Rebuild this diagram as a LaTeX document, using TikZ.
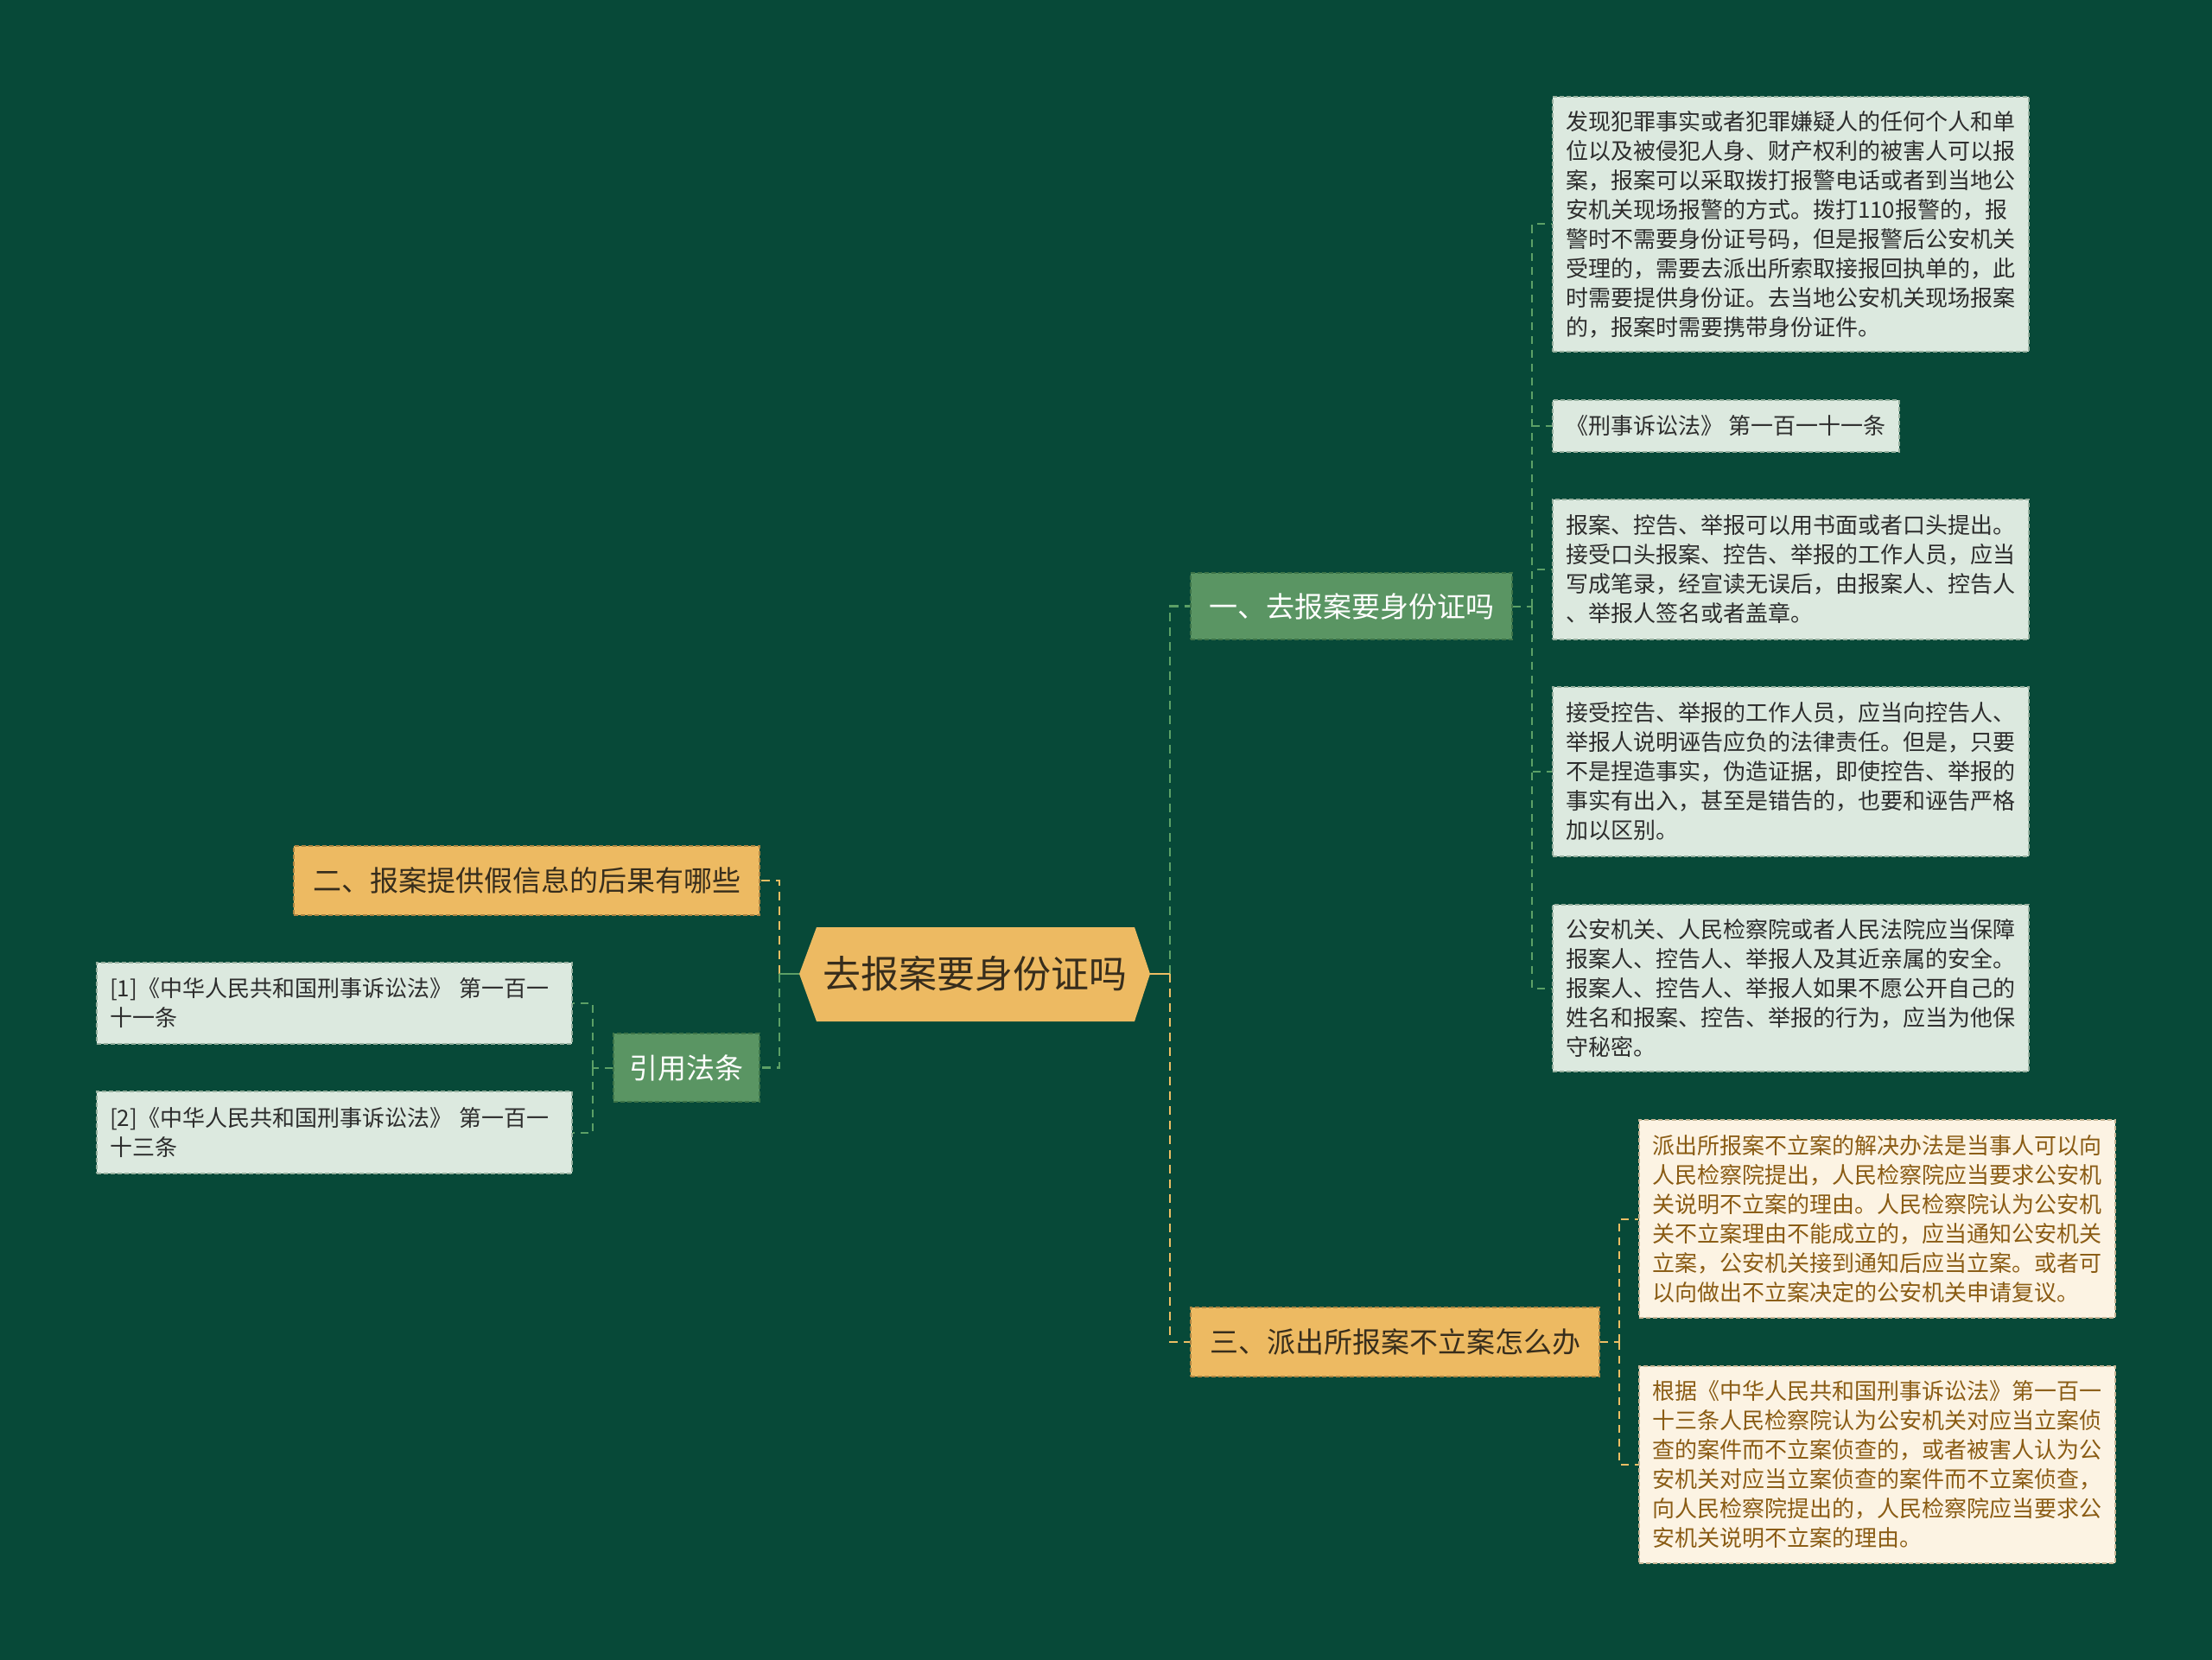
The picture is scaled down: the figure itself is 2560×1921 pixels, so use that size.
\documentclass[tikz,border=0pt]{standalone}
\usepackage{fontspec}
\newfontfamily\cjk{Noto Sans CJK SC}
\definecolor{bgc}{RGB}{7,73,56}
\definecolor{lightfill}{RGB}{220,233,223}
\definecolor{lightdraw}{RGB}{150,175,158}
\definecolor{creamfill}{RGB}{252,243,227}
\definecolor{creamdraw}{RGB}{200,182,150}
\definecolor{creamtext}{RGB}{138,92,20}
\definecolor{orangefill}{RGB}{237,186,98}
\definecolor{orangedraw}{RGB}{170,132,66}
\definecolor{greenfill}{RGB}{90,149,99}
\definecolor{greendraw}{RGB}{60,115,72}
\definecolor{darktext}{RGB}{55,45,28}
\definecolor{graytext}{RGB}{45,45,45}
\definecolor{conngreen}{RGB}{92,160,102}
\definecolor{connorange}{RGB}{237,190,100}
\tikzset{
  boxbase/.style={rectangle, inner ysep=0pt, dash pattern=on 5pt off 3pt, line width=1.5pt},
  leafbox/.style={boxbase, fill=lightfill, draw=lightdraw, text=graytext, align=left,
    inner xsep=15pt, font=\cjk\fontsize{26}{34}\selectfont},
  creambox/.style={boxbase, fill=creamfill, draw=creamdraw, text=creamtext, align=left,
    inner xsep=15pt, font=\cjk\fontsize{26}{34}\selectfont},
  orangebranch/.style={boxbase, fill=orangefill, draw=orangedraw, text=darktext,
    inner xsep=0pt, font=\cjk\fontsize{33}{40}\selectfont},
  greenbranch/.style={boxbase, fill=greenfill, draw=greendraw, text=white,
    inner xsep=0pt, font=\cjk\fontsize{33}{40}\selectfont},
  conn/.style={line width=2.5pt, dash pattern=on 10pt off 7pt},
  stub/.style={line width=2.5pt},
  thinconn/.style={line width=2pt, dash pattern=on 9pt off 7pt},
}
\begin{document}
\begin{tikzpicture}[x=1pt,y=-1pt]
\useasboundingbox (0,0) rectangle (2560,1921);
\fill[bgc] (0,0) rectangle (2560,1921);

% root hexagon
\fill[orangefill] (925,1127) -- (945,1073) -- (1313,1073) -- (1331,1127) -- (1313,1182) -- (945,1182) -- cycle;
\node[minimum width=406pt, minimum height=109pt, inner sep=0pt, text=darktext,
  font=\cjk\fontsize{44}{50}\selectfont] (root) at (1128,1127) {去报案要身份证吗};

% branches
\node[greenbranch, minimum width=372pt, minimum height=77pt] (b1) at (1564,701.5) {一、去报案要身份证吗};
\node[orangebranch, minimum width=473pt, minimum height=80pt] (b3) at (1614.5,1553) {三、派出所报案不立案怎么办};
\node[orangebranch, minimum width=539pt, minimum height=80pt] (b2) at (609.5,1019) {二、报案提供假信息的后果有哪些};
\node[greenbranch, minimum width=169pt, minimum height=79pt] (b4) at (794.5,1235.5) {引用法条};

% leaves of b1
\node[leafbox, text width=521pt, minimum height=295pt] (c1) at (2072.5,259.5) {发现犯罪事实或者犯罪嫌疑人的任何个人和单\\位以及被侵犯人身、财产权利的被害人可以报\\案，报案可以采取拨打报警电话或者到当地公\\安机关现场报警的方式。拨打110报警的，报\\警时不需要身份证号码，但是报警后公安机关\\受理的，需要去派出所索取接报回执单的，此\\时需要提供身份证。去当地公安机关现场报案\\的，报案时需要携带身份证件。};
\node[leafbox, minimum width=401pt, minimum height=60pt] (c2) at (1997.5,493) {《刑事诉讼法》 第一百一十一条};
\node[leafbox, text width=521pt, minimum height=162pt] (c3) at (2072.5,659) {报案、控告、举报可以用书面或者口头提出。\\接受口头报案、控告、举报的工作人员，应当\\写成笔录，经宣读无误后，由报案人、控告人\\、举报人签名或者盖章。};
\node[leafbox, text width=521pt, minimum height=196pt] (c4) at (2072.5,893) {接受控告、举报的工作人员，应当向控告人、\\举报人说明诬告应负的法律责任。但是，只要\\不是捏造事实，伪造证据，即使控告、举报的\\事实有出入，甚至是错告的，也要和诬告严格\\加以区别。};
\node[leafbox, text width=521pt, minimum height=193pt] (c5) at (2072.5,1143.5) {公安机关、人民检察院或者人民法院应当保障\\报案人、控告人、举报人及其近亲属的安全。\\报案人、控告人、举报人如果不愿公开自己的\\姓名和报案、控告、举报的行为，应当为他保\\守秘密。};

% leaves of b3
\node[creambox, text width=521pt, minimum height=229pt] (d1) at (2172.5,1410.5) {派出所报案不立案的解决办法是当事人可以向\\人民检察院提出，人民检察院应当要求公安机\\关说明不立案的理由。人民检察院认为公安机\\关不立案理由不能成立的，应当通知公安机关\\立案，公安机关接到通知后应当立案。或者可\\以向做出不立案决定的公安机关申请复议。};
\node[creambox, text width=521pt, minimum height=228pt] (d2) at (2172.5,1695) {根据《中华人民共和国刑事诉讼法》第一百一\\十三条人民检察院认为公安机关对应当立案侦\\查的案件而不立案侦查的，或者被害人认为公\\安机关对应当立案侦查的案件而不立案侦查，\\向人民检察院提出的，人民检察院应当要求公\\安机关说明不立案的理由。};

% leaves of b4
\node[leafbox, text width=520pt, minimum height=94pt] (r1) at (387,1161) {[1]《中华人民共和国刑事诉讼法》 第一百一\\十一条};
\node[leafbox, text width=520pt, minimum height=95pt] (r2) at (387,1310.5) {[2]《中华人民共和国刑事诉讼法》 第一百一\\十三条};

% junctions
\coordinate (rj) at (1354,1127);
\coordinate (lj) at (902,1127);
\coordinate (j1) at (1773,701.5);
\coordinate (j3) at (1874,1553);
\coordinate (j4) at (686,1235.5);

% root -> right branches
\draw[conngreen, stub] (root.east) -- (rj);
\draw[conngreen, conn] (rj) |- (b1.west);
\draw[connorange, stub] (root.east) -- (rj);
\draw[connorange, conn] (rj) |- (b3.west);
% root -> left branches
\draw[connorange, stub] (root.west) -- (lj);
\draw[connorange, conn] (lj) |- (b2.east);
\draw[conngreen, stub] (root.west) -- (lj);
\draw[conngreen, conn] (lj) |- (b4.east);

% b1 -> leaves
\draw[conngreen, thinconn] (b1.east) -- (j1);
\foreach \n in {c1,c2,c3,c4,c5} \draw[conngreen, thinconn] (j1) |- (\n.west);
% b3 -> leaves
\draw[connorange, thinconn] (b3.east) -- (j3);
\foreach \n in {d1,d2} \draw[connorange, thinconn] (j3) |- (\n.west);
% b4 -> leaves
\draw[conngreen, thinconn] (b4.west) -- (j4);
\foreach \n in {r1,r2} \draw[conngreen, thinconn] (j4) |- (\n.east);
\end{tikzpicture}
\end{document}
